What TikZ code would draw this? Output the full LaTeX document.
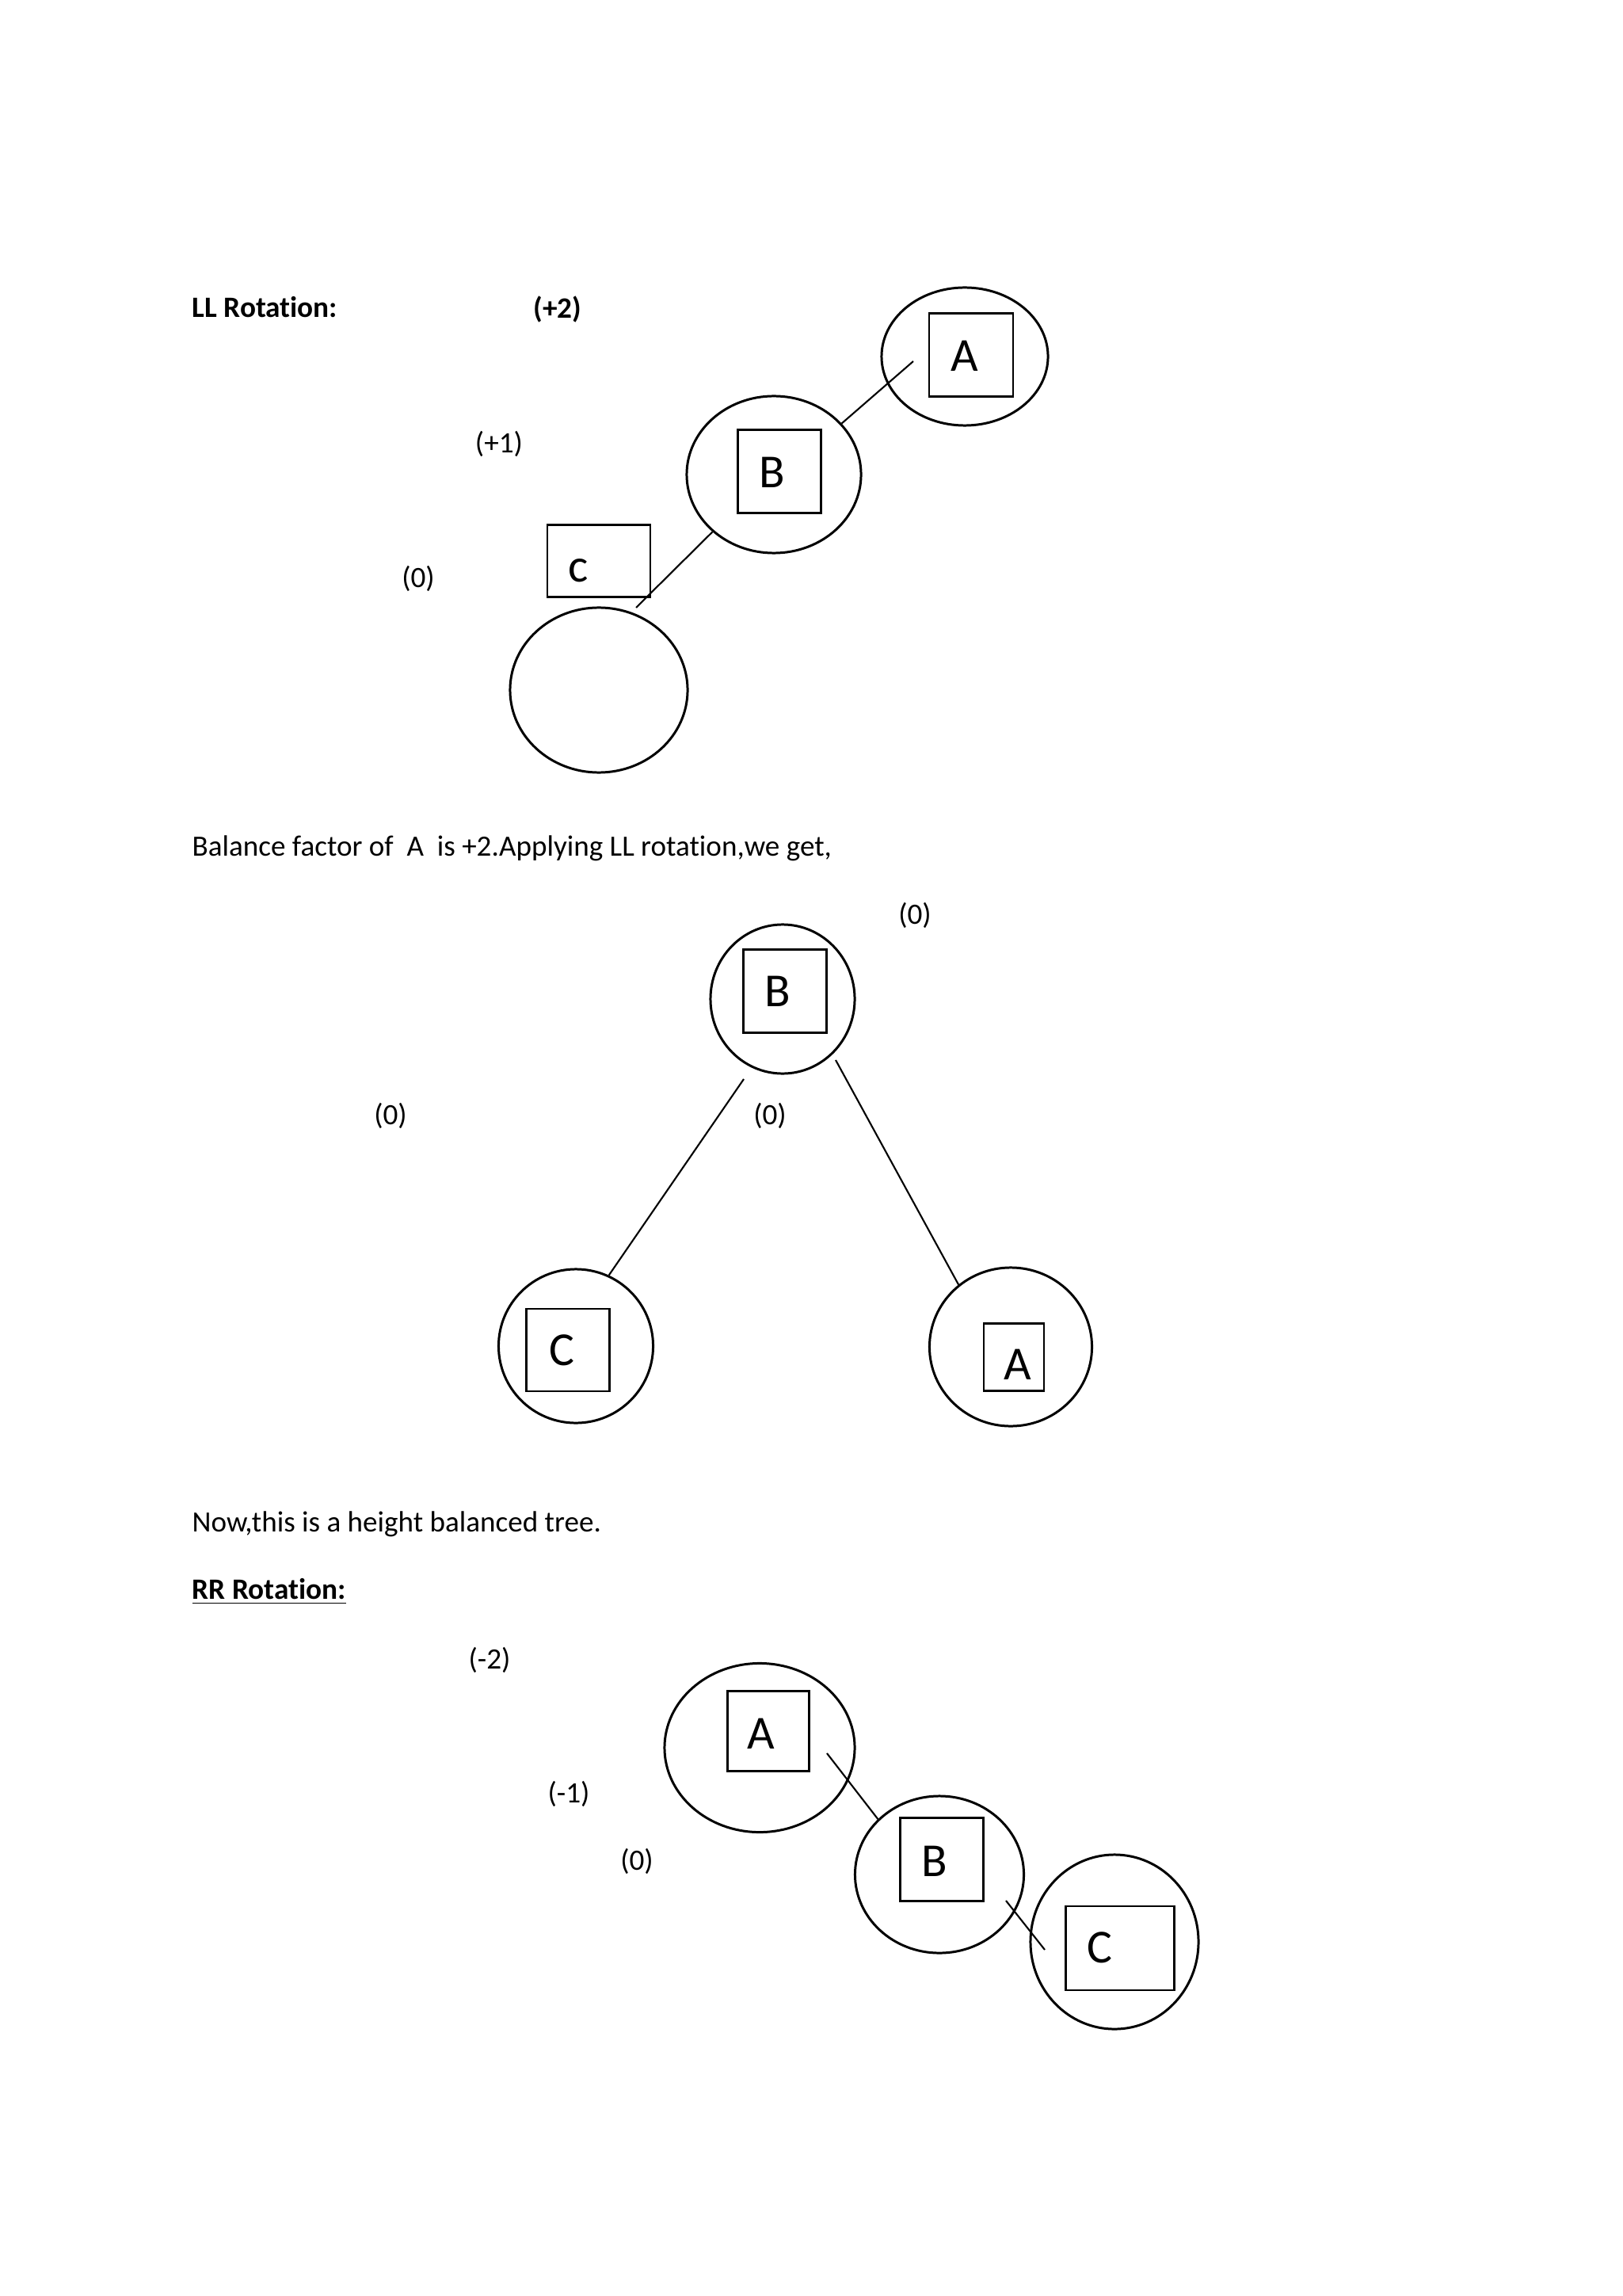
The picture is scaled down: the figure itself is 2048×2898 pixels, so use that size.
\documentclass[tikz,border=0pt]{standalone}
\usepackage{fontspec}
\setmainfont{Carlito}[Ligatures=NoCommon]
\usetikzlibrary{shapes.geometric}

\begin{document}
\begin{tikzpicture}[x=0.01cm, y=-0.01cm,
    txt/.style={inner sep=0pt, anchor=base west, font=\fontsize{10.55pt}{13pt}\selectfont},
    heading/.style={txt, font=\fontsize{10.6pt}{13pt}\selectfont\bfseries},
    bal/.style={inner sep=0pt, font=\fontsize{10.6pt}{13pt}\selectfont},
    ring/.style={ellipse, draw, line width=0.85pt, inner sep=0pt},
    keybox/.style={rectangle, draw, line width=0.8pt, inner sep=0pt},
    letter/.style={inner sep=0pt, font=\fontsize{17pt}{20pt}\selectfont},
    link/.style={line width=0.6pt}]
  \useasboundingbox (0,0) rectangle (2048,2898);

  % LL rotation, before
  \node[heading] (llhead) at (242,401) {LL Rotation:};
  \node[bal, font=\fontsize{10.6pt}{13pt}\selectfont\bfseries] (bfA1) at (704,390) {(+2)};
  \node[bal] (bfB1) at (630,560) {(+1)};
  \node[bal] (bfC1) at (528,730) {(0)};

  \node[ring, minimum width=2.1cm, minimum height=1.74cm] (eA1) at (1218,450) {};
  \node[keybox, minimum width=1.06cm, minimum height=1.05cm] (sqA1) at (1226,448) {};
  \node[letter] (lA1) at (1218,449) {A};

  \node[ring, minimum width=2.2cm, minimum height=1.98cm] (eB1) at (977,599) {};
  \node[keybox, minimum width=1.05cm, minimum height=1.05cm] (sqB1) at (984,595) {};
  \node[letter] (lB1) at (975,596) {B};

  \node[keybox, minimum width=1.3cm, minimum height=0.91cm] (sqC1) at (756,708) {};
  \node[letter] (lC1) at (730,720) {c};
  \node[ring, minimum width=2.24cm, minimum height=2.08cm] (eC1) at (756,871) {};

  \coordinate (tA1) at (1153,456);
  \coordinate (tC1) at (803,767);
  \draw[link] (eB1.37) -- (tA1);
  \draw[link] (eB1.223) -- (tC1);

  \node[txt] (note1) at (242,1080) {Balance factor of\ \ A\ \ is +2.Applying LL rotation,we get,};

  % LL rotation, after
  \node[bal] (bfB2) at (1155,1155) {(0)};
  \node[bal] (bfC2) at (493,1408) {(0)};
  \node[bal] (bfA2) at (972,1408) {(0)};

  \node[ring, minimum width=1.82cm, minimum height=1.88cm] (eB2) at (988,1261) {};
  \node[keybox, minimum width=1.05cm, minimum height=1.05cm] (sqB2) at (991,1251) {};
  \node[letter] (lB2) at (982,1251) {B};

  \node[ring, minimum width=1.95cm, minimum height=1.94cm] (eC2) at (727,1699) {};
  \node[keybox, minimum width=1.05cm, minimum height=1.04cm] (sqC2) at (717,1704) {};
  \node[letter] (lC2) at (709,1704) {C};

  \node[ring, minimum width=2.05cm, minimum height=2.0cm] (eA2) at (1276,1700) {};
  \node[keybox, minimum width=0.76cm, minimum height=0.85cm] (sqA2) at (1280,1713) {};
  \node[letter] (lA2) at (1285,1722) {A};

  \coordinate (sB2) at (939,1362);
  \coordinate (sA2) at (1055,1338);
  \draw[link] (sB2) -- (eC2.65);
  \draw[link] (sA2) -- (eA2.130);

  \node[txt] (note2) at (242,1933) {Now,this is a height balanced tree.};
  \node[heading] (rrhead) at (242,2018) {\underline{RR Rotation:}};

  % RR rotation
  \node[bal] (bfA3) at (618,2095) {(-2)};
  \node[bal] (bfB3) at (718,2264) {(-1)};
  \node[bal] (bfC3) at (804,2349) {(0)};

  \node[ring, minimum width=2.4cm, minimum height=2.13cm] (eA3) at (959,2206) {};
  \node[keybox, minimum width=1.03cm, minimum height=1.01cm] (sqA3) at (970,2185) {};
  \node[letter] (lA3) at (961,2188) {A};

  \node[ring, minimum width=2.13cm, minimum height=1.98cm] (eB3) at (1186,2366) {};
  \node[keybox, minimum width=1.05cm, minimum height=1.05cm] (sqB3) at (1189,2347) {};
  \node[letter] (lB3) at (1180,2349) {B};

  \node[ring, minimum width=2.12cm, minimum height=2.2cm] (eC3) at (1407,2451) {};
  \node[keybox, minimum width=1.37cm, minimum height=1.06cm] (sqC3) at (1414,2459) {};
  \node[letter] (lC3) at (1388,2458) {C};

  \coordinate (sA3) at (1044,2213);
  \coordinate (sB3) at (1270,2399);
  \coordinate (tC3) at (1319,2461);
  \draw[link] (sA3) -- (eB3.138);
  \draw[link] (sB3) -- (tC3);
\end{tikzpicture}
\end{document}
